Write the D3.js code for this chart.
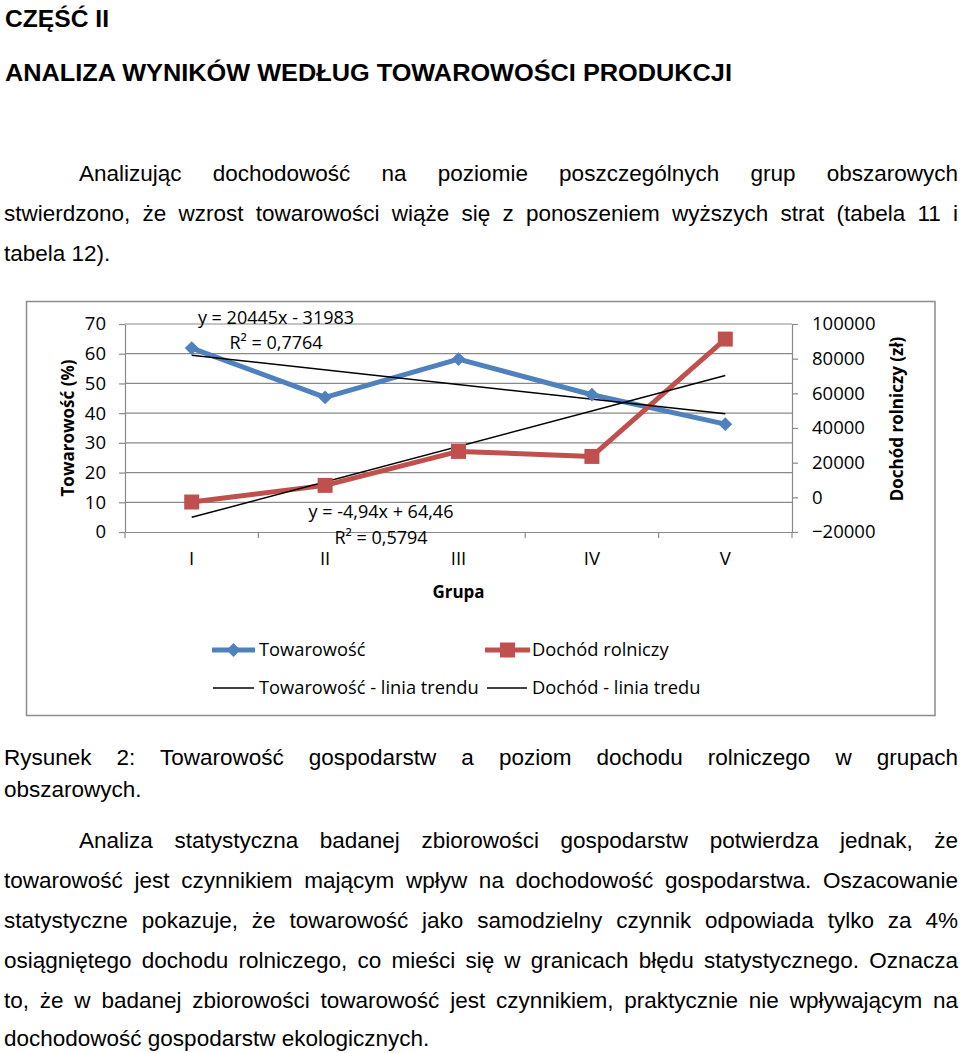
<!DOCTYPE html>
<html><head><meta charset="utf-8">
<script src="https://cdn.jsdelivr.net/npm/d3@7"></script>
<style>html,body{margin:0;padding:0;background:#fff;}svg{display:block;}</style>
</head><body>
<script>
// ---------- data ----------
const categories = ["I", "II", "III", "IV", "V"];
const towarowosc = [61.9, 45.3, 58.2, 46.2, 36.3];          // % (left axis)
const dochod = [-2700, 6900, 26500, 23600, 91300];          // zł (right axis)
const leftTicks = [0, 10, 20, 30, 40, 50, 60, 70];
const rightTicks = [-20000, 0, 20000, 40000, 60000, 80000, 100000];
const trendTow = [-4.94, 64.46];      // slope, intercept
const trendDoch = [20445, -31983];    // slope, intercept
const trendTowLabel = ["y = -4,94x + 64,46", "R² = 0,5794"];
const trendDochLabel = ["y = 20445x - 31983", "R² = 0,7764"];
const legendItems = ["Towarowość", "Dochód rolniczy", "Towarowość - linia trendu", "Dochód - linia tredu"];

const heading1 = "CZĘŚĆ II";
const heading2 = "ANALIZA WYNIKÓW WEDŁUG TOWAROWOŚCI PRODUKCJI";
const para1 = [
  ["Analizując dochodowość na poziomie poszczególnych grup obszarowych", true, true],
  ["stwierdzono, że wzrost towarowości wiąże się z ponoszeniem wyższych strat (tabela 11 i", false, true],
  ["tabela 12).", false, false]
];
const caption = [
  ["Rysunek 2: Towarowość gospodarstw a poziom dochodu rolniczego w grupach", false, true],
  ["obszarowych.", false, false]
];
const para2 = [
  ["Analiza statystyczna badanej zbiorowości gospodarstw potwierdza jednak, że", true, true],
  ["towarowość jest czynnikiem mającym wpływ na dochodowość gospodarstwa. Oszacowanie", false, true],
  ["statystyczne pokazuje, że towarowość jako samodzielny czynnik odpowiada tylko za 4%", false, true],
  ["osiągniętego dochodu rolniczego, co mieści się w granicach błędu statystycznego. Oznacza", false, true],
  ["to, że w badanej zbiorowości towarowość jest czynnikiem, praktycznie nie wpływającym na", false, true],
  ["dochodowość gospodarstw ekologicznych.", false, false]
];

// ---------- page ----------
const W = 960, H = 1053;
const svg = d3.select("body").append("svg").attr("width", W).attr("height", H);
svg.append("rect").attr("width", W).attr("height", H).attr("fill", "#fff");

const bodyFont = "'Liberation Sans', Arial, Helvetica, sans-serif";
const chartFont = "'Open Sans', 'Noto Sans', sans-serif";

function textLine(txt, x0, x1, y, size, weight, justify, stretch) {
  const t = svg.append("text").attr("x", x0).attr("y", y)
    .attr("font-family", bodyFont).attr("font-size", size)
    .attr("font-weight", weight).attr("fill", "#000").text(txt);
  if (justify) {
    const w = t.node().getComputedTextLength();
    const n = (txt.match(/ /g) || []).length;
    const T = x1 - x0;
    if (!stretch && w < T && n > 0) t.attr("word-spacing", (T - w) / n);
    else t.attr("textLength", T).attr("lengthAdjust", "spacingAndGlyphs");
  }
}

textLine(heading1, 5, 109, 27, 24.5, "bold", true, true);
textLine(heading2, 5, 732, 81, 24.5, "bold", true, true);

const fs = 22.5, left = 4, right = 958, indent = 79;
const p1Base = [181, 221, 261];
para1.forEach((d, i) => textLine(d[0], d[1] ? indent : left, right, p1Base[i], fs, "normal", d[2]));
const capBase = [765, 797];
caption.forEach((d, i) => textLine(d[0], d[1] ? indent : left, right, capBase[i], fs, "normal", d[2]));
const p2Base = [848, 888, 928, 968, 1008, 1046];
para2.forEach((d, i) => textLine(d[0], d[1] ? indent : left, right, p2Base[i], fs, "normal", d[2]));

// ---------- chart ----------
svg.append("rect").attr("x", 26.5).attr("y", 301.5).attr("width", 908.5).attr("height", 414)
  .attr("fill", "#fff").attr("stroke", "#8c8c8c").attr("stroke-width", 1.5);

const plot = {l: 125, r: 792, t: 324, b: 532};
const x = d3.scaleBand().domain(categories).range([plot.l, plot.r]);
const cx = c => x(c) + x.bandwidth() / 2;
const xi = i => plot.l + x.step() * (i - 0.5);  // trend-line x for index (1-based)
const yL = d3.scaleLinear().domain([0, 70]).range([plot.b, plot.t]);
const yR = d3.scaleLinear().domain([-20000, 100000]).range([plot.b, plot.t]);
const grid = "#8a8a8a";

// gridlines
svg.append("g").selectAll("line").data(leftTicks.filter(v => v > 0)).join("line")
  .attr("x1", plot.l).attr("x2", plot.r).attr("y1", d => yL(d)).attr("y2", d => yL(d))
  .attr("stroke", grid).attr("stroke-width", 1.2);

// left axis
const gL = svg.append("g").attr("transform", `translate(${plot.l},0)`)
  .call(d3.axisLeft(yL).tickValues(leftTicks).tickSize(6).tickPadding(13).tickSizeOuter(0));
// right axis
const gR = svg.append("g").attr("transform", `translate(${plot.r},0)`)
  .call(d3.axisRight(yR).tickValues(rightTicks).tickSize(6).tickPadding(14).tickSizeOuter(0).tickFormat(d3.format("d")));
// bottom axis (labels) + boundary ticks
const gB = svg.append("g").attr("transform", `translate(0,${plot.b})`)
  .call(d3.axisBottom(x).tickSize(0).tickPadding(20).tickSizeOuter(0));
gB.selectAll(".tick line").remove();
svg.append("g").selectAll("line").data(d3.range(categories.length + 1)).join("line")
  .attr("x1", i => plot.l + i * x.step()).attr("x2", i => plot.l + i * x.step())
  .attr("y1", plot.b).attr("y2", plot.b + 6).attr("stroke", grid).attr("stroke-width", 1.2);

[gL, gR, gB].forEach(g => {
  g.select(".domain").attr("stroke", grid).attr("stroke-width", 1.2);
  g.selectAll(".tick line").attr("stroke", grid).attr("stroke-width", 1.2);
  g.selectAll("text").attr("font-family", chartFont).attr("font-size", 18.5).attr("fill", "#000");
});

// axis titles
svg.append("text").attr("transform", `translate(74,428) rotate(-90)`).attr("text-anchor", "middle")
  .attr("font-family", chartFont).attr("font-size", 17).attr("font-weight", "bold").text("Towarowość (%)");
svg.append("text").attr("transform", `translate(903,419) rotate(-90)`).attr("text-anchor", "middle")
  .attr("font-family", chartFont).attr("font-size", 17).attr("font-weight", "bold").text("Dochód rolniczy (zł)");
svg.append("text").attr("x", (plot.l + plot.r) / 2).attr("y", 598).attr("text-anchor", "middle")
  .attr("font-family", chartFont).attr("font-size", 17).attr("font-weight", "bold").text("Grupa");

const blue = "#4f81bd", red = "#c0504d";

// series lines
const lineL = d3.line().x((d, i) => cx(categories[i])).y(d => yL(d));
const lineR = d3.line().x((d, i) => cx(categories[i])).y(d => yR(d));
svg.append("path").attr("d", lineL(towarowosc)).attr("fill", "none").attr("stroke", blue).attr("stroke-width", 5).attr("stroke-linejoin", "round");
svg.append("path").attr("d", lineR(dochod)).attr("fill", "none").attr("stroke", red).attr("stroke-width", 5).attr("stroke-linejoin", "round");

// trend lines (Excel linear trend, x = 1..n)
const n = categories.length;
svg.append("line").attr("x1", xi(1)).attr("x2", xi(n))
  .attr("y1", yL(trendTow[0] * 1 + trendTow[1])).attr("y2", yL(trendTow[0] * n + trendTow[1]))
  .attr("stroke", "#000").attr("stroke-width", 1.5);
svg.append("line").attr("x1", xi(1)).attr("x2", xi(n))
  .attr("y1", yR(trendDoch[0] * 1 + trendDoch[1])).attr("y2", yR(trendDoch[0] * n + trendDoch[1]))
  .attr("stroke", "#000").attr("stroke-width", 1.5);

// markers
const diamond = d3.symbol().type(d3.symbolSquare).size(95);
const square = d3.symbol().type(d3.symbolSquare).size(225);
svg.append("g").selectAll("path").data(towarowosc).join("path")
  .attr("d", diamond).attr("fill", blue)
  .attr("transform", (d, i) => `translate(${cx(categories[i])},${yL(d)}) rotate(45)`);
svg.append("g").selectAll("path").data(dochod).join("path")
  .attr("d", square).attr("fill", red)
  .attr("transform", (d, i) => `translate(${cx(categories[i])},${yR(d)})`);

// trend labels
function label(lines, xc, ys) {
  lines.forEach((t, i) => svg.append("text").attr("x", xc).attr("y", ys[i]).attr("text-anchor", "middle")
    .attr("font-family", chartFont).attr("font-size", 18).attr("fill", "#000").text(t));
}
label(trendDochLabel, 276, [324, 349]);
label(trendTowLabel, 381, [518, 544]);

// legend
const lg = svg.append("g").attr("font-family", chartFont).attr("font-size", 18.3);
const legendPos = [[212, 650], [485, 650], [213, 688], [487, 688]];
const legendW = [43, 45, 41, 40];
const legendKind = ["blue", "red", "trend", "trend"];
legendItems.forEach((t, i) => {
  const [lx, ly] = legendPos[i];
  const k = legendKind[i];
  const col = k === "blue" ? blue : k === "red" ? red : "#000";
  lg.append("line").attr("x1", lx).attr("x2", lx + legendW[i]).attr("y1", ly).attr("y2", ly)
    .attr("stroke", col).attr("stroke-width", k === "trend" ? 1.5 : 5);
  if (k === "blue") lg.append("path").attr("d", diamond).attr("fill", blue)
    .attr("transform", `translate(${lx + legendW[i] / 2},${ly}) rotate(45)`);
  if (k === "red") lg.append("path").attr("d", square).attr("fill", red)
    .attr("transform", `translate(${lx + legendW[i] / 2},${ly})`);
  lg.append("text").attr("x", i % 2 === 0 ? 259 : 532).attr("y", ly + 6).text(t);
});
</script>
</body></html>
